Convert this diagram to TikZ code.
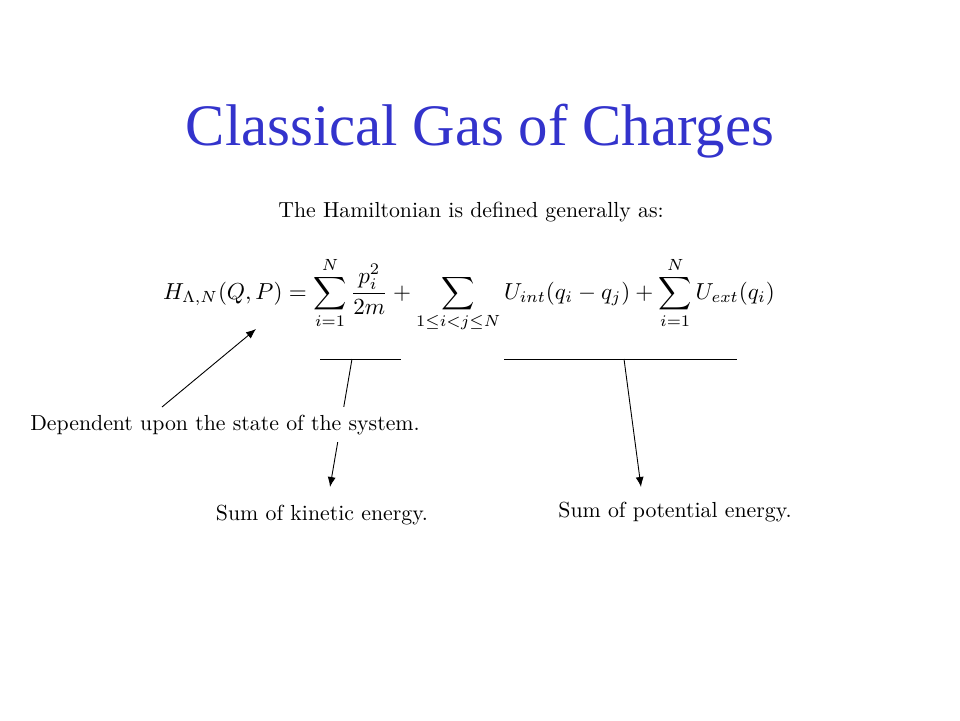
\documentclass[tikz,border=0pt]{standalone}
\usepackage{fontspec}
\usepackage{amsmath}
\newfontfamily\titlefont{Liberation Serif}
\usetikzlibrary{arrows.meta,backgrounds}
\definecolor{titleblue}{RGB}{51,51,204}
\begin{document}
\begin{tikzpicture}[x=1pt,y=-1pt,
  txt/.style={anchor=base, scale=2.18, inner sep=0.3333em},
  conn/.style={line width=0.9pt},
  arr/.style={conn,-{Latex[length=10pt,width=8pt]}}]
\useasboundingbox (0,0) rectangle (960,720);
\node[anchor=base, text=titleblue, font=\titlefont\fontsize{58.8}{70}\selectfont] (title) at (480,145) {Classical Gas of Charges};
\node[txt] (intro) at (471,217) {The Hamiltonian is defined generally as:};
\node[txt, scale=1.06] (eq) at (469,299) {$\displaystyle H_{\Lambda,N}(Q,P)=\sum_{i=1}^{N}\frac{p_i^2}{2m}+\sum_{1\le i<j\le N} U_{int}(q_i-q_j)+\sum_{i=1}^{N}U_{ext}(q_i)$};
\node[txt, fill=white] (dep) at (225,430) {Dependent upon the state of the system.};
\node[txt] (kin) at (322,520) {Sum of kinetic energy.};
\node[txt] (pot) at (675,517) {Sum of potential energy.};
% coordinates
\coordinate (ulA1) at (320,359);
\coordinate (ulA2) at (401,359);
\coordinate (ulAm) at (352,359);
\coordinate (kinTip) at (330,487);
\coordinate (ulB1) at (504,359);
\coordinate (ulB2) at (737,359);
\coordinate (ulBm) at (624,359);
\coordinate (potTip) at (641,487);
\coordinate (depStart) at (162,407);
\coordinate (hTip) at (256,329);
\draw[conn] (ulA1) -- (ulA2);
\draw[conn] (ulB1) -- (ulB2);
\begin{scope}[on background layer]
\draw[arr] (ulAm) -- (kinTip);
\end{scope}
\draw[arr] (ulBm) -- (potTip);
\draw[arr] (depStart) -- (hTip);
\end{tikzpicture}
\end{document}
